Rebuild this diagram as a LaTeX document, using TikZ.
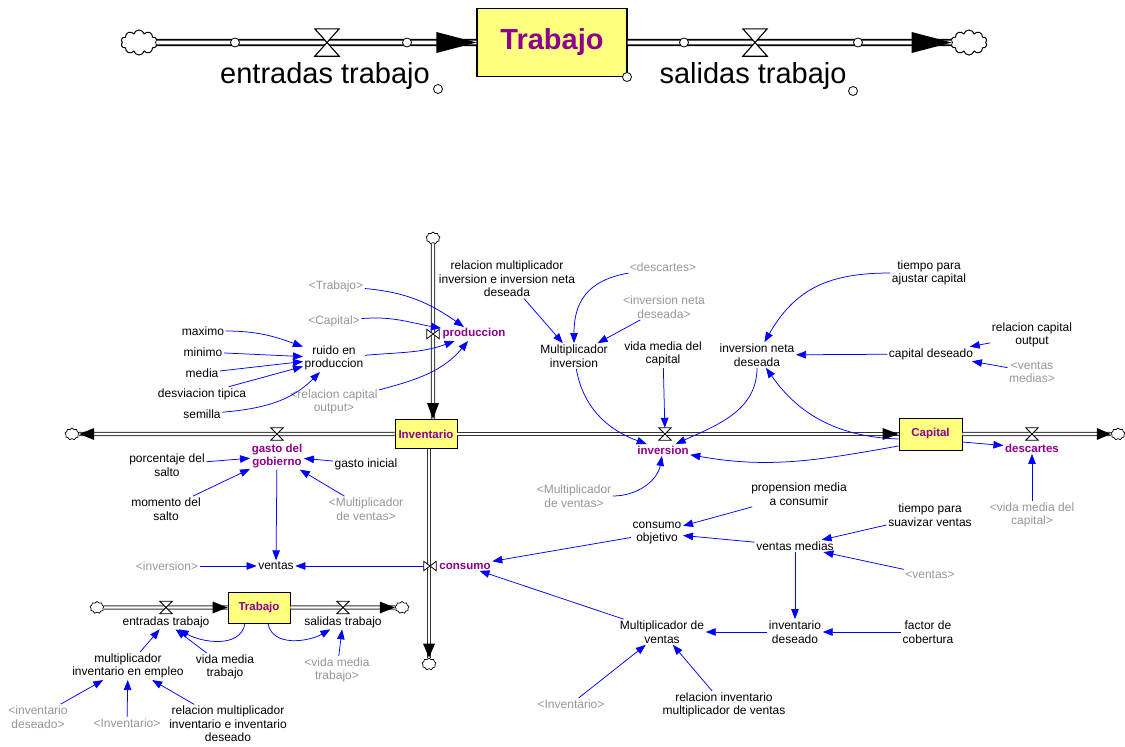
\documentclass[tikz,border=0pt]{standalone}
\usepackage{fontspec}
\setmainfont{Liberation Sans}
\usetikzlibrary{arrows.meta,shapes.symbols,calc}
\definecolor{linkblue}{RGB}{0,0,255}
\definecolor{shadowgray}{RGB}{150,150,150}
\definecolor{flowpurple}{RGB}{140,0,140}
\definecolor{stockyellow}{RGB}{255,255,128}
\definecolor{pipegray}{RGB}{50,50,50}
\begin{document}
\begin{tikzpicture}[x=1pt,y=1pt,
  v/.style={font=\fontsize{12}{13.5}\selectfont, align=center, inner sep=1.5pt},
  sh/.style={v, text=shadowgray},
  fl/.style={font=\bfseries\fontsize{11.5}{13}\selectfont, text=flowpurple, align=center, inner sep=1.5pt},
  stockbox/.style={draw, fill=stockyellow, font=\bfseries\fontsize{11.5}{13}\selectfont, text=flowpurple, inner sep=0pt, line width=0.9pt},
  lk/.style={draw=linkblue, line width=0.75pt, -{Triangle[length=10pt,width=7.5pt]}},
  pipe/.style={draw=pipegray, line width=1.1pt, double=white, double distance=2.2pt},
  bigpipe/.style={draw=black, line width=1.8pt, double=white, double distance=3.6pt},
  smallcloud/.style={cloud, cloud puffs=9, cloud ignores aspect, draw, fill=white, inner sep=0pt, line width=0.7pt, minimum width=14pt, minimum height=12pt},
  bigcloud/.style={cloud, cloud puffs=10, cloud ignores aspect, draw, fill=white, inner sep=0pt, line width=1pt, minimum width=36pt, minimum height=25pt},
  valvenode/.style={inner sep=0pt, minimum width=12pt, minimum height=12pt},
  valveline/.style={draw=black, fill=white, line width=0.8pt},
  dot/.style={circle, draw, fill=white, inner sep=0pt, minimum size=9pt, line width=0.8pt},
]
\useasboundingbox (0,0) rectangle (1125,-747);

%================ TOP =================
\node[bigcloud] (cL) at (139,-42.5) {};
\node[stockbox, minimum width=150pt, minimum height=68pt, font=\bfseries\fontsize{29}{32}\selectfont, line width=1.2pt] (T) at (552,-42.5) {Trabajo};
\node[bigcloud] (cR) at (969,-42.5) {};
\draw[bigpipe] (cL) -- (T);
\draw[bigpipe] (T) -- (cR);
\fill (T.west) -- ++(-40,10.5) -- ++(0,-21) -- cycle;
\fill (cR.west) -- ++(-40,10.5) -- ++(0,-21) -- cycle;
\node[valvenode, minimum width=24pt, minimum height=27pt] (vTE) at (327,-42.5) {};
\node[valvenode, minimum width=24pt, minimum height=27pt] (vTS) at (755,-42.5) {};
\foreach \w in {vTE,vTS}
  \draw[valveline, line width=1.1pt] (\w.north west) -- (\w.north east) -- (\w.south west) -- (\w.south east) -- cycle;
\node[dot] (d1) at (235,-42.5) {};
\node[dot] (d2) at (407,-42.5) {};
\node[dot] (d3) at (684,-42.5) {};
\node[dot] (d4) at (858,-42.5) {};
\node[dot] (d5) at (438,-89) {};
\node[dot] (d6) at (627,-77) {};
\node[dot] (d7) at (853,-91) {};
\node[font=\fontsize{29}{32}\selectfont, inner sep=0pt] (lE) at (325,-76) {entradas trabajo};
\node[font=\fontsize{29}{32}\selectfont, inner sep=0pt] (lS) at (753,-76) {salidas trabajo};

%================ BOTTOM: stocks, clouds, pipes =================
\node[stockbox, minimum width=62pt, minimum height=29pt] (Inv) at (426,-434) {Inventario};
\node[stockbox, minimum width=63pt, minimum height=32pt] (Cap) at (930.5,-434) {Capital};
\node[stockbox, minimum width=62pt, minimum height=31pt] (sT) at (259,-607.5) {Trabajo};

\node[smallcloud] (cP) at (433,-238) {};
\node[smallcloud] (cG) at (72,-434) {};
\node[smallcloud] (cD) at (1118,-434) {};
\node[smallcloud] (cC) at (429,-664) {};
\node[smallcloud] (cE) at (97,-607.5) {};
\node[smallcloud] (cS) at (402,-607.5) {};

\draw[pipe] (cP) -- (cP |- Inv.north);
\draw[pipe] (Inv) -- (cG);
\draw[pipe] (Inv) -- (Cap);
\draw[pipe] (Cap) -- (cD);
\draw[pipe] (cC |- Inv.south) -- (cC);
\draw[pipe] (cE) -- (sT);
\draw[pipe] (sT) -- (cS);

\fill (cP |- Inv.north) -- ++(-6,16) -- ++(12,0) -- cycle;
\fill (cG.east) -- ++(15,6) -- ++(0,-12) -- cycle;
\fill (Cap.west) -- ++(-16,6) -- ++(0,-12) -- cycle;
\fill (cD.west) -- ++(-14,6) -- ++(0,-12) -- cycle;
\fill (cC.north) -- ++(-6,14) -- ++(12,0) -- cycle;
\fill (sT.west) -- ++(-15,6) -- ++(0,-12) -- cycle;
\fill (cS.west) -- ++(-15,6) -- ++(0,-12) -- cycle;

\node[valvenode, minimum width=12pt, minimum height=9pt] (vProd) at (433,-334) {};
\node[valvenode] (vGasto) at (277,-434) {};
\node[valvenode] (vInv) at (665,-434) {};
\node[valvenode] (vDesc) at (1032,-434) {};
\node[valvenode, minimum width=12pt, minimum height=9pt] (vCons) at (430,-566) {};
\node[valvenode] (vEnt) at (166,-607.5) {};
\node[valvenode] (vSal) at (343,-607.5) {};
\foreach \w in {vGasto,vInv,vDesc,vEnt,vSal}
  \draw[valveline] (\w.north west) -- (\w.north east) -- (\w.south west) -- (\w.south east) -- cycle;
\foreach \w in {vProd,vCons}
  \draw[valveline] (\w.north west) -- (\w.south west) -- (\w.north east) -- (\w.south east) -- cycle;

%================ flow labels =================
\node[fl] (prod) at (474,-334) {produccion};
\node[fl] (gasto) at (277,-456) {gasto del\\gobierno};
\node[fl] (inv) at (663,-450) {inversion};
\node[fl] (desc) at (1032,-448) {descartes};
\node[fl] (cons) at (465,-566) {consumo};
\node[v] (entL) at (166,-622) {entradas trabajo};
\node[v] (salL) at (343,-622) {salidas trabajo};

%================ variables =================
\node[v] (maximo) at (203,-331) {maximo};
\node[v] (minimo) at (203,-352) {minimo};
\node[v] (media) at (202,-373) {media};
\node[v] (desv) at (202,-394) {desviacion tipica};
\node[v] (semilla) at (202,-414) {semilla};
\node[v] (ruido) at (334,-358) {ruido en\\produccion};
\node[v] (relMI) at (507,-279) {relacion multiplicador\\inversion e inversion neta\\deseada};
\node[v] (MultInv) at (574,-356) {Multiplicador\\inversion};
\node[v] (vidaCap) at (663,-354) {vida media del\\capital};
\node[v] (IND) at (757,-355) {inversion neta\\deseada};
\node[v] (tiempoAj) at (929,-273) {tiempo para\\ajustar capital};
\node[v] (relCO) at (1032,-335) {relacion capital\\output};
\node[v] (capDes) at (931,-354) {capital deseado};
\node[v] (porcSalto) at (167,-465) {porcentaje del\\salto};
\node[v] (gastoIni) at (366,-464) {gasto inicial};
\node[v] (momSalto) at (166,-509) {momento del\\salto};
\node[v] (ventas) at (276,-566) {ventas};
\node[v] (propMed) at (799,-494) {propension media\\a consumir};
\node[v] (tiempoSuav) at (930,-515) {tiempo para\\suavizar ventas};
\node[v] (ventasMed) at (795,-546) {ventas medias};
\node[v] (consObj) at (657,-533) {consumo\\objetivo};
\node[v] (MultV) at (662,-632) {Multiplicador de\\ventas};
\node[v] (invDes) at (795,-632) {inventario\\deseado};
\node[v] (factor) at (928,-632) {factor de\\cobertura};
\node[v] (relIMV) at (724,-705) {relacion inventario\\multiplicador de ventas};
\node[v] (multIE) at (128,-666) {multiplicador\\inventario en empleo};
\node[v] (vidaTrab) at (225,-667) {vida media\\trabajo};
\node[v] (relMIE) at (228,-724) {relacion multiplicador\\inventario e inventario\\deseado};

%================ shadow variables =================
\node[sh] (shTrab) at (336,-286) {<Trabajo>};
\node[sh] (shCap) at (334,-321) {<Capital>};
\node[sh] (shRCO) at (334,-402) {<relacion capital\\output>};
\node[sh] (shDesc) at (663,-267) {<descartes>};
\node[sh] (shIND) at (664,-307) {<inversion neta\\deseada>};
\node[sh] (shVM) at (1032,-372) {<ventas\\medias>};
\node[sh] (shMV1) at (366,-509) {<Multiplicador\\de ventas>};
\node[sh] (shInv) at (167,-566) {<inversion>};
\node[sh] (shMV2) at (574,-496) {<Multiplicador\\de ventas>};
\node[sh] (shVMC) at (1032,-515) {<vida media del\\capital>};
\node[sh] (shVentas) at (930,-575) {<ventas>};
\node[sh] (shInvent) at (571,-704) {<Inventario>};
\node[sh] (shVMT) at (337,-670) {<vida media\\trabajo>};
\node[sh] (shID) at (38,-717) {<inventario\\deseado>};
\node[sh] (shInventB) at (127,-723) {<Inventario>};

%================ connectors =================
\draw[lk] (shTrab) to[out=-5,in=145] (prod);
\draw[lk] (shCap) to[out=5,in=170] (prod);
\draw[lk] (maximo) to[out=0,in=160] (ruido);
\draw[lk] (minimo) -- (ruido);
\draw[lk] (media) -- (ruido);
\draw[lk] (desv) -- (ruido);
\draw[lk] (semilla) to[out=5,in=-135] (ruido);
\draw[lk] (ruido) to[out=5,in=-160] (prod);
\draw[lk] (shRCO) to[out=15,in=-130] (prod);

\draw[lk] (relMI) -- (MultInv);
\draw[lk] (shDesc) to[out=190,in=90,looseness=1.2] (MultInv);
\draw[lk] (shIND) -- (MultInv);
\draw[lk] (vidaCap) -- (vInv);
\draw[lk] (MultInv) to[out=-80,in=160] (inv);
\draw[lk] (IND) to[out=-90,in=25] (inv);
\draw[lk] ([yshift=-5pt]Cap.west) to[out=178,in=-55] (IND);
\draw[lk] ([yshift=-12pt]Cap.west) to[out=190,in=-10] (inv);
\draw[lk] (shMV2) to[out=0,in=-100] (inv);
\draw[lk] (tiempoAj) to[out=180,in=60,looseness=1.1] (IND);
\draw[lk] (capDes) -- (IND);
\draw[lk] (relCO) -- (capDes);
\draw[lk] (shVM) -- (capDes);
\draw[lk] ([yshift=-8pt]Cap.east) -- (desc);
\draw[lk] (shVMC) -- (desc);

\draw[lk] (porcSalto) -- (gasto);
\draw[lk] (gastoIni) -- (gasto);
\draw[lk] (momSalto) -- (gasto);
\draw[lk] (shMV1) -- (gasto);
\draw[lk] (gasto) -- (ventas);
\draw[lk] (shInv) -- (ventas);
\draw[lk] (vCons) -- (ventas);

\draw[lk] (consObj) -- (cons);
\draw[lk] (MultV) -- (cons);
\draw[lk] (propMed) -- (consObj);
\draw[lk] (ventasMed) -- (consObj);
\draw[lk] (tiempoSuav) -- (ventasMed);
\draw[lk] (shVentas) -- (ventasMed);
\draw[lk] (ventasMed) -- (invDes);
\draw[lk] (invDes) -- (MultV);
\draw[lk] (factor) -- (invDes);
\draw[lk] (shInvent) -- (MultV);
\draw[lk] (relIMV) -- (MultV);

\draw[lk] ([xshift=-14pt]sT.south) to[out=-100,in=-30] (entL);
\draw[lk] ([xshift=9pt]sT.south) to[out=-80,in=-150] (salL);
\draw[lk] (vidaTrab) -- (entL);
\draw[lk] (multIE) -- (entL);
\draw[lk] (shVMT) -- (salL);
\draw[lk] (shID) -- (multIE);
\draw[lk] (shInventB) -- (multIE);
\draw[lk] (relMIE) -- (multIE);
\end{tikzpicture}
\end{document}
